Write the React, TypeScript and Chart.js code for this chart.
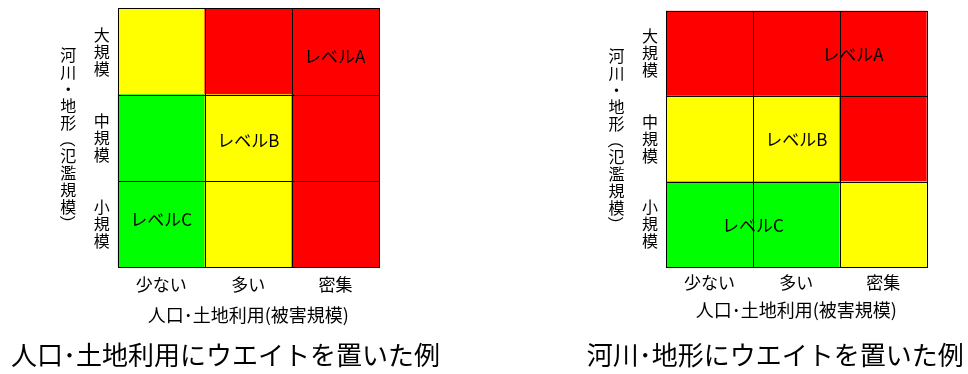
import React, { useEffect, useRef } from "react";
import { Chart, registerables } from "chart.js";

Chart.register(...registerables);

const FONT = '"Noto Sans CJK JP", "Noto Sans", sans-serif';
Chart.defaults.font.family = FONT;

// ---- data ----
const xCategories = ["少ない", "多い", "密集"];
const yCategories = ["小規模", "中規模", "大規模"]; // bottom -> top
const yTickValues = [0.5, 1.5, 2.5];
const xAxisTitle = "人口･土地利用(被害規模)";
const yAxisTitle = "河川・地形（氾濫規模）";
const cellValue = 1;

const levelColors: Record<string, string> = { A: "#FF0000", B: "#FFFF00", C: "#00FF00" };

// levels per column for each row (人口・土地利用にウエイト)
const popSmall = ["C", "B", "A"];
const popMedium = ["C", "B", "A"];
const popLarge = ["B", "A", "A"];
// (河川・地形にウエイト)
const riverSmall = ["C", "C", "B"];
const riverMedium = ["B", "B", "A"];
const riverLarge = ["A", "A", "A"];

const levelLabels = ["レベルA", "レベルB", "レベルC"];
const popLabelX = [1.99, 1.0, 0.0];
const popLabelY = [2.44, 1.47, 0.55];
const riverLabelX = [1.65, 1.0, 0.5];
const riverLabelY = [2.49, 1.49, 0.49];

const popCaption = "人口･土地利用にウエイトを置いた例";
const riverCaption = "河川･地形にウエイトを置いた例";

type PanelCfg = {
  left: number;
  rows: string[][];
  labelX: number[];
  labelY: number[];
  caption: string;
  padding: { left: number; top: number; right: number; bottom: number };
  yAxisWidth: number;
  xAxisHeight: number;
  xTickPad: number;
  xTitlePad: number;
};

const panels: PanelCfg[] = [
  {
    left: 0,
    rows: [popSmall, popMedium, popLarge],
    labelX: popLabelX,
    labelY: popLabelY,
    caption: popCaption,
    padding: { left: 11, top: 8.3, right: 105, bottom: 0 },
    yAxisWidth: 106.7,
    xAxisHeight: 72.5,
    xTickPad: 7.5,
    xTitlePad: 14,
  },
  {
    left: 484,
    rows: [riverSmall, riverMedium, riverLarge],
    labelX: riverLabelX,
    labelY: riverLabelY,
    caption: riverCaption,
    padding: { left: 102.7, top: 10.7, right: 41.3, bottom: 0 },
    yAxisWidth: 79.3,
    xAxisHeight: 72.8,
    xTickPad: 5.5,
    xTitlePad: 19,
  },
];

function Panel({ cfg }: { cfg: PanelCfg }) {
  const ref = useRef<HTMLCanvasElement>(null);

  useEffect(() => {
    const canvas = ref.current;
    if (!canvas) return;

    const widenCaption = {
      id: "widenCaption",
      afterLayout(chart: any) {
        if (chart.titleBlock) {
          chart.titleBlock.right = chart.width;
          chart.titleBlock.width = chart.width - chart.titleBlock.left;
        }
      },
    };

    const cellBorders = {
      id: "cellBorders",
      afterDatasetsDraw(chart: any) {
        const ctx = chart.ctx;
        ctx.save();
        ctx.strokeStyle = "#000";
        ctx.lineWidth = 1;
        chart.data.datasets.forEach((_: any, di: number) => {
          const meta = chart.getDatasetMeta(di);
          meta.data.forEach((bar: any) => {
            const l = Math.round(bar.x - bar.width / 2);
            const r = Math.round(bar.x + bar.width / 2);
            const t = Math.round(Math.min(bar.y, bar.base));
            const b = Math.round(Math.max(bar.y, bar.base));
            ctx.strokeRect(l + 0.5, t + 0.5, r - l, b - t);
          });
        });
        ctx.restore();
      },
    };

    const levelText = {
      id: "levelText",
      afterDatasetsDraw(chart: any) {
        const ctx = chart.ctx;
        const xs = chart.scales.x;
        const ys = chart.scales.y;
        ctx.save();
        ctx.fillStyle = "#000";
        ctx.font = `17px ${FONT}`;
        ctx.textAlign = "center";
        ctx.textBaseline = "middle";
        levelLabels.forEach((t, i) => {
          ctx.fillText(t, xs.getPixelForValue(cfg.labelX[i]), ys.getPixelForValue(cfg.labelY[i]));
        });
        ctx.restore();
      },
    };

    const yTitle = {
      id: "yTitle",
      afterDraw(chart: any) {
        const ctx = chart.ctx;
        const area = chart.chartArea;
        const chars = Array.from(yAxisTitle);
        const step = 16.8;
        const cx = area.left - 49.5;
        const cy = (area.top + area.bottom) / 2 + 1.5;
        ctx.save();
        ctx.fillStyle = "#000";
        ctx.font = `16px ${FONT}`;
        ctx.textAlign = "center";
        ctx.textBaseline = "middle";
        chars.forEach((c, i) => {
          const y = cy + (i - (chars.length - 1) / 2) * step;
          if (c === "（" || c === "）") {
            ctx.save();
            ctx.translate(cx, y);
            ctx.rotate(Math.PI / 2);
            ctx.fillText(c, 0, 0);
            ctx.restore();
          } else {
            ctx.fillText(c, cx, y);
          }
        });
        ctx.restore();
      },
    };

    const chart = new Chart(canvas, {
      type: "bar",
      data: {
        labels: xCategories,
        datasets: cfg.rows.map((levels, r) => ({
          label: yCategories[r],
          data: xCategories.map(() => cellValue),
          backgroundColor: levels.map((l) => levelColors[l]),
          borderWidth: 0,
          barPercentage: 1,
          categoryPercentage: 1,
        })),
      },
      options: {
        animation: false,
        responsive: false,
        devicePixelRatio: 1,
        events: [],
        layout: { padding: cfg.padding },
        plugins: {
          legend: { display: false },
          tooltip: { enabled: false },
          title: {
            display: true,
            text: cfg.caption,
            position: "bottom",
            align: "start",
            color: "#000",
            font: { family: FONT, size: 26, weight: "normal", lineHeight: 1.2 },
            padding: { top: 0, bottom: 3 },
          },
        },
        scales: {
          x: {
            stacked: true,
            grid: { display: false, drawTicks: false },
            border: { display: false },
            ticks: {
              color: "#000",
              font: { family: FONT, size: 17 },
              padding: cfg.xTickPad,
              maxRotation: 0,
              autoSkip: false,
            },
            title: {
              display: true,
              text: xAxisTitle,
              color: "#000",
              font: { family: FONT, size: 18, lineHeight: 1.2 },
              padding: { top: 0, bottom: cfg.xTitlePad },
            },
            afterFit: (s: any) => {
              s.height = cfg.xAxisHeight;
              s.paddingLeft = 0;
              s.paddingRight = 0;
            },
          },
          y: {
            stacked: true,
            min: 0,
            max: 3,
            grid: { display: false, drawTicks: false },
            border: { display: false },
            afterBuildTicks: (s: any) => {
              s.ticks = yTickValues.map((v) => ({ value: v }));
            },
            ticks: {
              color: "#000",
              font: { family: FONT, size: 16, lineHeight: 17 / 16 },
              padding: 8,
              callback: (_v: any, i: number) => Array.from(yCategories[i]),
            },
            afterFit: (s: any) => {
              s.width = cfg.yAxisWidth;
              s.paddingTop = 0;
              s.paddingBottom = 0;
            },
          },
        },
      } as any,
      plugins: [widenCaption, cellBorders, levelText, yTitle],
    });
    return () => chart.destroy();
  }, [cfg]);

  return (
    <canvas
      ref={ref}
      width={484}
      height={374}
      style={{ position: "absolute", left: cfg.left, top: 0, width: 484, height: 374, display: "block" }}
    />
  );
}

export default function App() {
  return (
    <div style={{ position: "absolute", left: 0, top: 0, width: 968, height: 374, background: "#fff" }}>
      {panels.map((p, i) => (
        <Panel key={i} cfg={p} />
      ))}
    </div>
  );
}
